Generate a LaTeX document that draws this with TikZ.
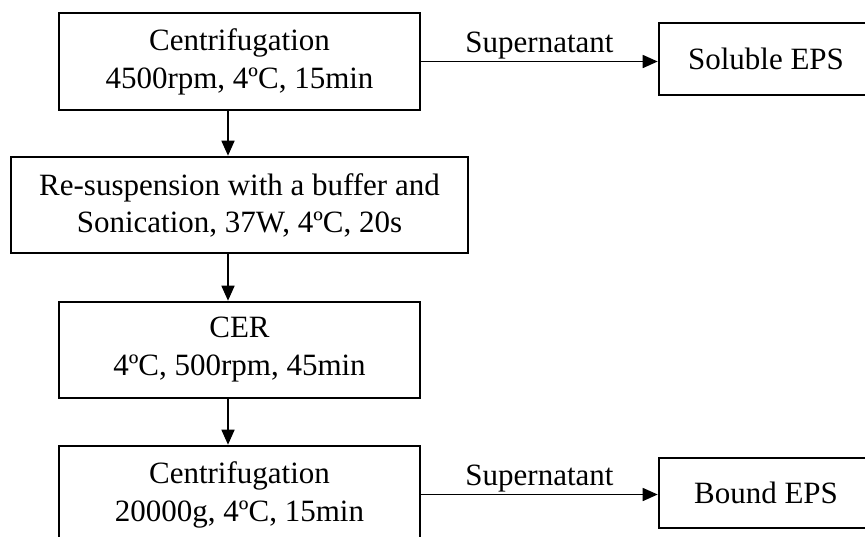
\documentclass[tikz,border=0pt]{standalone}
\usepackage{fontspec}
\setmainfont{Liberation Serif}
\usetikzlibrary{arrows.meta}
\begin{document}
\begin{tikzpicture}[x=1pt,y=-1pt,
  procbox/.style={draw=black, line width=2.6pt, inner sep=0pt, align=center,
    font=\fontsize{31}{38}\selectfont},
  flowarrow/.style={line width=1.6pt, -{Triangle[length=15pt,width=13pt]}},
  flowlabel/.style={font=\fontsize{31}{38}\selectfont, inner sep=2pt}]
\clip (0,0) rectangle (865,536);
\fill[white] (0,0) rectangle (865,536);
\coordinate (ax) at (228,0);
\node[procbox, minimum width=361pt, minimum height=97pt] (b1) at (239.5,61.5)
  {Centrifugation\\4500rpm, 4ºC, 15min};
\node[procbox, minimum width=214pt, minimum height=72pt] (sol) at (766,59)
  {Soluble EPS};
\node[procbox, minimum width=457pt, minimum height=96pt,
  font=\fontsize{31}{37}\selectfont] (b2) at (239.5,205)
  {Re-suspension with a buffer and\\Sonication, 37W, 4ºC, 20s};
\node[procbox, minimum width=361pt, minimum height=96pt] (b3) at (239.5,350)
  {CER\\4ºC, 500rpm, 45min};
\node[procbox, minimum width=361pt, minimum height=97pt] (b4) at (239.5,494.5)
  {Centrifugation\\20000g, 4ºC, 15min};
\node[procbox, minimum width=214pt, minimum height=70pt] (bnd) at (766,493)
  {Bound EPS};
\draw[flowarrow] (b1.south -| ax) -- (b2.north -| ax);
\draw[flowarrow] (b2.south -| ax) -- (b3.north -| ax);
\draw[flowarrow] (b3.south -| ax) -- (b4.north -| ax);
\draw[flowarrow] (b1.east) -- (sol.west |- b1.east)
  node[midway, above, flowlabel] (l1) {Supernatant};
\draw[flowarrow] (b4.east) -- (bnd.west |- b4.east)
  node[midway, above, flowlabel] (l2) {Supernatant};
\end{tikzpicture}
\end{document}
